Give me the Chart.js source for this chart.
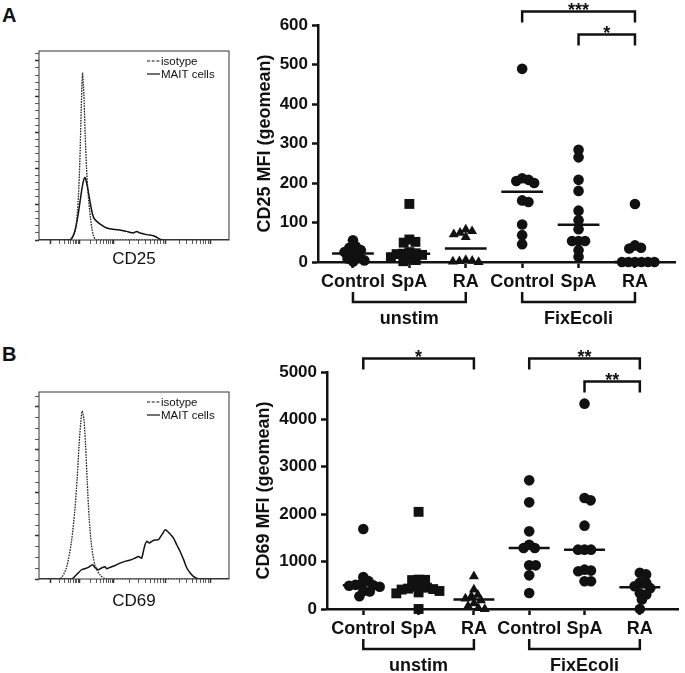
<!DOCTYPE html>
<html>
<head>
<meta charset="utf-8">
<title>MAIT cells CD25 / CD69</title>
<script src="https://cdn.jsdelivr.net/npm/chart.js@4.4.1/dist/chart.umd.min.js"></script>
<style>
    html, body { margin: 0; padding: 0; background: #fff; }
    body { position: relative; width: 685px; height: 673px; overflow: hidden; font-family: 'Liberation Sans', Arial, sans-serif; }
    .letter { position: absolute; left: 2px; font-weight: bold; font-size: 20px; line-height: 20px; color: #111; }
    .box { position: absolute; }
</style>
</head>
<body>
<div class="letter" style="top:5px">A</div>
<div class="letter" style="top:344px">B</div>
<div class="box" style="left:0;top:0;width:240px;height:275px"><canvas id="histA"></canvas></div>
<div class="box" style="left:240px;top:0;width:445px;height:330px"><canvas id="dotsA"></canvas></div>
<div class="box" style="left:0;top:330px;width:240px;height:290px"><canvas id="histB"></canvas></div>
<div class="box" style="left:240px;top:330px;width:445px;height:343px"><canvas id="dotsB"></canvas></div>
<script>
const groupLabels = ['Control', 'SpA', 'RA', 'Control', 'SpA', 'RA'];
const stimLabels = ['unstim', 'FixEcoli'];
const groupShapes = ['circle', 'rect', 'triangle', 'circle', 'circle', 'circle'];

// CD25 MFI (geomean), one value per donor
const cd25UnstimControl = [55, 40, 36, 30, 25, 18, 14, 9, 4, 1];
const cd25UnstimSpA = [147, 57, 51, 49, 25, 22, 21, 20, 18, 12, 8, 5, 2];
const cd25UnstimRA = [82, 78, 74, 70, 63, 5, 3, 2, 1, 0];
const cd25EcoliControl = [489, 212, 208, 205, 200, 156, 152, 95, 68, 45];
const cd25EcoliSpA = [284, 265, 208, 180, 130, 106, 83, 53, 53, 53, 30, 13];
const cd25EcoliRA = [147, 42, 36, 34, 0, 0, 0, 0, 0, 0];
const cd25Ticks = [0, 100, 200, 300, 400, 500, 600];
const cd25Sig = [[4, 6, '***'], [5, 6, '*']];

// CD69 MFI (geomean)
const cd69UnstimControl = [1688, 674, 590, 540, 510, 500, 490, 470, 380, 370, 270];
const cd69UnstimSpA = [2050, 620, 615, 610, 490, 470, 450, 430, 420, 410, 380, 350, 330, 0];
const cd69UnstimRA = [690, 410, 300, 270, 220, 180, 120, 60, 20, 0];
const cd69EcoliControl = [2714, 2250, 1638, 1357, 1287, 1287, 921, 921, 710, 338];
const cd69EcoliSpA = [4332, 2342, 2292, 1758, 1252, 1252, 1252, 830, 810, 795, 584, 584];
const cd69EcoliRA = [766, 730, 560, 550, 480, 440, 330, 305, 200, 0];
const cd69Ticks = [0, 1000, 2000, 3000, 4000, 5000];
const cd69Sig = [[1, 3, '*'], [4, 6, '**'], [5, 6, '**']];

// histograms: channel (0-1000) and normalised event count
const cd25IsoChannel = [0, 162, 180, 194, 206, 215, 222, 229, 236, 243, 250, 259, 271, 285, 303, 1000];
const cd25IsoCount = [0, 0, 2.1, 6.7, 21.7, 44.1, 72.1, 93.1, 81.5, 59.0, 40.4, 25.4, 12.3, 3.0, 0, 0];
const cd25MaitChannel = [0, 153, 171, 188, 206, 224, 236, 243, 254, 268, 282, 294, 320, 356, 400, 426, 461, 496, 514, 532, 567, 602, 620, 637, 655, 1000];
const cd25MaitCount = [0, 0, 0.7, 4.8, 14.2, 27.3, 33.8, 34.8, 30.2, 21.7, 14.2, 11.4, 9.0, 6.7, 5.8, 5.6, 4.8, 3.9, 4.8, 3.9, 3.0, 2.4, 1.5, 0.4, 0, 0];
const cd69IsoChannel = [0, 109, 144, 171, 188, 201, 211, 220, 227, 236, 245, 254, 264, 276, 294, 320, 356, 1000];
const cd69IsoCount = [0, 0, 5.1, 17.5, 31.4, 46.8, 62.3, 73.0, 78.0, 74.6, 62.3, 45.2, 28.3, 15.9, 6.6, 2.0, 0, 0];
const cd69MaitChannel = [0, 171, 197, 224, 241, 259, 282, 294, 312, 329, 347, 356, 373, 400, 426, 452, 470, 488, 505, 523, 540, 549, 558, 567, 581, 593, 611, 629, 646, 664, 673, 690, 708, 725, 743, 761, 778, 796, 813, 840, 1000];
const cd69MaitCount = [0, 0, 2.0, 4.3, 4.8, 5.4, 6.6, 5.4, 4.3, 5.1, 5.7, 4.8, 5.4, 6.3, 7.4, 8.2, 8.6, 9.0, 9.7, 10.5, 9.7, 12.8, 15.9, 17.5, 16.7, 17.5, 18.1, 18.3, 20.5, 22.9, 22.4, 20.9, 19.0, 15.9, 12.8, 9.0, 5.1, 2.8, 1.2, 0, 0];
const histMajorTicks = [60, 215, 394, 667, 901];

const ink = '#111';
const family = "'Liberation Sans', Arial, sans-serif";
Chart.defaults.font.family = family;
Chart.defaults.color = ink;

function median(values) {
    const s = [...values].sort((a, b) => a - b);
    const m = Math.floor(s.length / 2);
    return s.length % 2 ? s[m] : (s[m - 1] + s[m]) / 2;
}

function zip(xs, ys) {
    return xs.map((x, i) => ({ x, y: ys[i] }));
}

// log-style minor ticks between the major decades
function histTicks() {
    const ticks = [...histMajorTicks];
    for (let i = 0; i < histMajorTicks.length - 1; i++) {
        const a = histMajorTicks[i], b = histMajorTicks[i + 1];
        for (let k = 2; k <= 9; k++) ticks.push(a + (b - a) * Math.log10(k));
    }
    return ticks.sort((a, b) => a - b);
}

// simple beeswarm in pixel space
function swarmOffsets(pixels, gap) {
    const order = pixels.map((p, i) => i).sort((a, b) => pixels[a] - pixels[b]);
    const placed = [];
    const offsets = new Array(pixels.length).fill(0);
    order.forEach((i) => {
        const y = pixels[i];
        const near = placed.filter((p) => Math.abs(p.y - y) < gap);
        const candidates = [0];
        near.forEach((p) => {
            const dx = Math.sqrt(gap * gap - (p.y - y) ** 2);
            candidates.push(p.x + dx, p.x - dx);
        });
        const ok = candidates.filter((c) => near.every((p) => Math.hypot(p.x - c, p.y - y) >= gap - 0.01));
        ok.sort((a, b) => Math.abs(a) - Math.abs(b) || b - a);
        offsets[i] = ok[0];
        placed.push({ x: ok[0], y });
    });
    return offsets;
}

const histDecor = {
    id: 'histDecor',
    afterDraw(chart) {
        const { ctx, chartArea: a } = chart;
        ctx.save();
        ctx.strokeStyle = '#333';
        ctx.lineWidth = 1;
        ctx.strokeRect(a.left, a.top, a.width, a.height);
        ctx.font = `11.5px ${family}`;
        ctx.fillStyle = ink;
        ctx.textBaseline = 'middle';
        chart.data.datasets.forEach((ds, i) => {
            const y = a.top + 10 + i * 13;
            const x0 = a.right - 82;
            ctx.strokeStyle = ink;
            ctx.lineWidth = 1.2;
            ctx.setLineDash(ds.borderDash ? [3, 1.7] : []);
            ctx.beginPath();
            ctx.moveTo(x0, y);
            ctx.lineTo(x0 + 13, y);
            ctx.stroke();
            ctx.setLineDash([]);
            ctx.fillText(ds.label, x0 + 14, y + 0.5);
        });
        ctx.restore();
    }
};

function histogram(id, marker, iso, mait, opts) {
    const allTicks = histTicks();
    const yTicks = [];
    for (let v = 0; v <= opts.yMax; v += opts.yMinor) yTicks.push(v);
    return new Chart(document.getElementById(id), {
        type: 'scatter',
        data: {
            datasets: [
                { label: 'isotype', data: iso, showLine: true, borderColor: '#222', borderWidth: 1.3, borderDash: [1.6, 1.1], pointRadius: 0, tension: 0.25 },
                { label: 'MAIT cells', data: mait, showLine: true, borderColor: ink, borderWidth: 1.5, pointRadius: 0, tension: 0.25 }
            ]
        },
        options: {
            responsive: true,
            maintainAspectRatio: false,
            animation: false,
            layout: { padding: { top: opts.top, right: 11, left: 0, bottom: 0 } },
            plugins: { legend: { display: false }, tooltip: { enabled: false } },
            scales: {
                x: {
                    type: 'linear', min: 0, max: 1000,
                    afterBuildTicks: (s) => { s.ticks = allTicks.map((value) => ({ value })); },
                    ticks: { display: false },
                    grid: { drawOnChartArea: false, tickLength: 4, tickColor: '#333', tickWidth: (c) => (c.tick && histMajorTicks.includes(c.tick.value) ? 1.5 : 0.8) },
                    border: { display: false },
                    title: { display: true, text: marker, font: { size: 17 }, color: ink, padding: { top: 0, bottom: opts.titlePad } },
                    afterFit: (s) => { s.height = opts.xHeight; }
                },
                y: {
                    min: 0, max: opts.yMax,
                    afterBuildTicks: (s) => { s.ticks = yTicks.map((value) => ({ value })); },
                    ticks: { display: false },
                    grid: { drawOnChartArea: false, tickLength: 4, tickColor: '#333', tickWidth: (c) => (c.tick && c.tick.value % 20 === 0 ? 1.5 : 0.8) },
                    border: { display: false },
                    afterFit: (s) => { s.width = 39; }
                }
            }
        },
        plugins: [histDecor]
    });
}

const dotDecor = {
    id: 'dotDecor',
    afterDraw(chart, args, o) {
        const { ctx, chartArea: a, scales: { x } } = chart;
        ctx.save();
        ctx.strokeStyle = ink;
        ctx.fillStyle = ink;
        ctx.lineWidth = 2.5;
        ctx.textAlign = 'center';
        ctx.font = `bold 18px ${family}`;
        stimLabels.forEach((label, g) => {
            const x1 = x.getPixelForValue(g * 3 + 1);
            const x2 = x.getPixelForValue(g * 3 + 3);
            ctx.beginPath();
            ctx.moveTo(x1, a.bottom + 30);
            ctx.lineTo(x1, a.bottom + 40);
            ctx.lineTo(x2, a.bottom + 40);
            ctx.lineTo(x2, a.bottom + 30);
            ctx.stroke();
            ctx.textBaseline = 'middle';
            ctx.fillText(label, (x1 + x2) / 2, a.bottom + 57);
        });
        o.sig.forEach(([from, to, stars]) => {
            const level = o.sig.filter(([c, d]) => c <= from && d >= to && (c < from || d > to)).length;
            const yLine = a.top - 13.5 + level * 23;
            const x1 = x.getPixelForValue(from);
            const x2 = x.getPixelForValue(to);
            ctx.beginPath();
            ctx.moveTo(x1, yLine + 11);
            ctx.lineTo(x1, yLine);
            ctx.lineTo(x2, yLine);
            ctx.lineTo(x2, yLine + 11);
            ctx.stroke();
            ctx.textBaseline = 'alphabetic';
            ctx.fillText(stars, (x1 + x2) / 2, yLine + 4);
        });
        ctx.restore();
    }
};

function dotPlot(id, groups, opts) {
    const datasets = groups.map((values, i) => ({
        data: values.map((v) => ({ x: i + 1, y: v })),
        pointStyle: groupShapes[i],
        pointRadius: groupShapes[i] === 'rect' ? 7 : groupShapes[i] === 'triangle' ? 5.8 : 5.3,
        backgroundColor: ink,
        borderColor: ink,
        borderWidth: 0,
        clip: false
    }));
    groups.forEach((values, i) => {
        const m = median(values);
        datasets.push({
            data: [{ x: i + 0.63, y: m }, { x: i + 1.37, y: m }],
            showLine: true, borderColor: ink, borderWidth: 2.5, pointRadius: 0, clip: false
        });
    });
    const bold = (size) => ({ size, weight: 'bold', family });
    const chart = new Chart(document.getElementById(id), {
        type: 'scatter',
        data: { datasets },
        options: {
            responsive: true,
            maintainAspectRatio: false,
            animation: false,
            layout: { padding: { top: opts.top, right: opts.right, left: 0, bottom: 0 } },
            plugins: { legend: { display: false }, tooltip: { enabled: false }, dotDecor: { sig: opts.sig } },
            scales: {
                x: {
                    type: 'linear', min: opts.xMin, max: opts.xMax,
                    afterBuildTicks: (s) => { s.ticks = groupLabels.map((_, i) => ({ value: i + 1 })); },
                    ticks: { callback: (v, i) => groupLabels[i], autoSkip: false, maxRotation: 0, font: bold(18), color: ink, padding: 3 },
                    grid: { drawOnChartArea: false, tickLength: 6, tickWidth: 2.5, tickColor: ink },
                    border: { color: ink, width: 2.5 },
                    afterFit: (s) => { s.height = opts.xHeight; }
                },
                y: {
                    min: 0, max: opts.ticks[opts.ticks.length - 1],
                    afterBuildTicks: (s) => { s.ticks = opts.ticks.map((value) => ({ value })); },
                    ticks: { callback: (v) => String(v), font: bold(17), color: ink, padding: 4 },
                    grid: { drawOnChartArea: false, tickLength: 6, tickWidth: 2.5, tickColor: ink },
                    border: { color: ink, width: 2.5 },
                    title: { display: true, text: opts.title, font: bold(18), color: ink, padding: { top: opts.titlePad, bottom: 0 } },
                    afterFit: (s) => { s.width = opts.yWidth; }
                }
            }
        },
        plugins: [dotDecor]
    });

    const { x, y } = chart.scales;
    const unit = x.getPixelForValue(2) - x.getPixelForValue(1);
    groups.forEach((values, i) => {
        const offsets = swarmOffsets(values.map((v) => y.getPixelForValue(v)), 6.5);
        datasets[i].data = values.map((v, k) => ({ x: i + 1 + offsets[k] / unit, y: v }));
    });
    chart.update('none');
    return chart;
}

histogram('histA', 'CD25', zip(cd25IsoChannel, cd25IsoCount), zip(cd25MaitChannel, cd25MaitCount),
    { top: 51, yMax: 105.4, yMinor: 4, xHeight: 35, titlePad: 5 });
histogram('histB', 'CD69', zip(cd69IsoChannel, cd69IsoCount), zip(cd69MaitChannel, cd69MaitCount),
    { top: 62, yMax: 86.9, yMinor: 5, xHeight: 41, titlePad: 8 });

dotPlot('dotsA', [cd25UnstimControl, cd25UnstimSpA, cd25UnstimRA, cd25EcoliControl, cd25EcoliSpA, cd25EcoliRA], {
    ticks: cd25Ticks, sig: cd25Sig, title: 'CD25 MFI (geomean)',
    top: 25, right: 10, yWidth: 78, xHeight: 68, titlePad: 14, xMin: 0.38, xMax: 6.71
});
dotPlot('dotsB', [cd69UnstimControl, cd69UnstimSpA, cd69UnstimRA, cd69EcoliControl, cd69EcoliSpA, cd69EcoliRA], {
    ticks: cd69Ticks, sig: cd69Sig, title: 'CD69 MFI (geomean)',
    top: 42, right: 0, yWidth: 87, xHeight: 64, titlePad: 13, xMin: 0.344, xMax: 6.69
});
</script>
</body>
</html>
